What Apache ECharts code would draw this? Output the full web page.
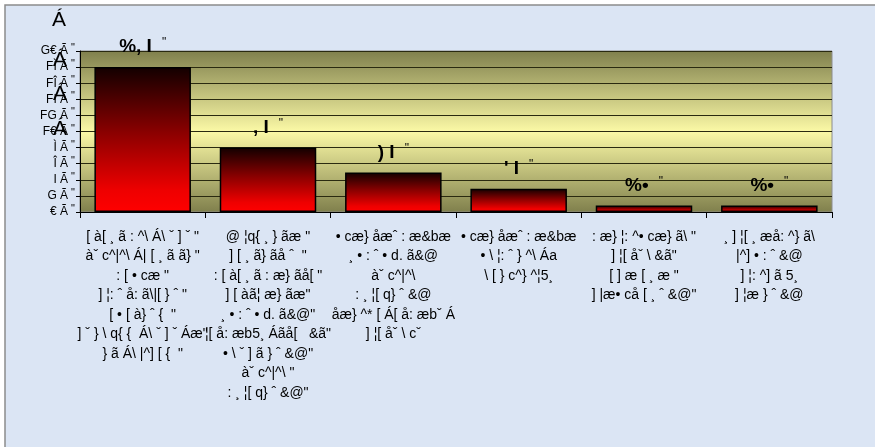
<!DOCTYPE html>
<html>
<head>
<meta charset="utf-8">
<script src="https://cdn.jsdelivr.net/npm/echarts@6/dist/echarts.min.js"></script>
<style>
  html, body { margin: 0; padding: 0; background: #fff; }
  #main { width: 875px; height: 447px; }
</style>
</head>
<body>
<div id="main"></div>
<script>
// category labels (kept as they appear in the picture)
var categories = [
  '[ à[ ¸ ã : ^\\ Á\\ ˇ ] ˇ "\nàˇ c^|^\\ Á| [ ¸ ã ã} "\n: [ • cæ "\n] ¦: ˆ å: ã\\|[ } ˆ "\n[ • [ à} ˆ {  "\n] ˇ } \\ q{ {  Á\\ ˇ ] ˇ Áæ"\n} ã Á\\ |^] [ {  "',
  '@ ¦q{ ¸ } ãæ "\n] [ ¸ ã} ãå ˆ  "\n: [ à[ ¸ ã : æ} ãå[ "\n] [ àã¦ æ} ãæ"\n¸ • : ˆ • d. ã&@"\n¦[ å: æb5¸ Áãå[   &ã"\n• \\ ˇ ] ã } ˆ &@"\nàˇ c^|^\\ "\n: ¸ ¦[ q} ˆ &@"',
  '• cæ} åæˆ : æ&bæ\n¸ • : ˆ • d. ã&@\nàˇ c^|^\\\n: ¸ ¦[ q} ˆ &@\nåæ} ^* [ Á[ å: æbˇ Á\n] ¦[ åˇ \\ cˇ',
  '• cæ} åæˆ : æ&bæ\n• \\ ¦: ˆ } ^\\ Áa\n\\ [ } c^} ^¦5¸',
  ': æ} ¦: ^• cæ} ã\\ "\n] ¦[ åˇ \\ &ã"\n[ ] æ [ ¸ æ "\n] |æ• cå [ ¸ ˆ &@"',
  '¸ ] ¦[ ¸ æå: ^} ã\\\n|^] • : ˆ &@\n] ¦: ^] ã 5¸\n] ¦æ } ˆ &@'
];
var values = [18.0, 8.0, 4.9, 2.9, 0.8, 0.8];
var valueLabels = ['%, I', ', I', ') I', '\' I', '%•', '%•'];
var yTickLabels = ['€ Ã', 'G Ã', 'I Ã', 'Î Ã', 'Ì Ã', 'F€ Ã', 'FG Ã', 'FI Ã', 'FÎ Ã', 'FÌ Ã', 'G€ Ã'];

var chart = echarts.init(document.getElementById('main'));

var barColor = new echarts.graphic.LinearGradient(0, 0, 0, 1, [
  { offset: 0, color: '#120000' },
  { offset: 0.45, color: '#8a0000' },
  { offset: 0.85, color: '#ee0000' },
  { offset: 1, color: '#ff0000' }
]);

var plotBg = new echarts.graphic.LinearGradient(0, 0, 0, 1, [
  { offset: 0, color: '#7f7f4c' },
  { offset: 0.5, color: '#fbf9a6' },
  { offset: 1, color: '#7f7f4c' }
]);

var option = {
  backgroundColor: '#ffffff',
  animation: false,
  textStyle: { fontFamily: 'Liberation Sans, Arial, sans-serif' },
  graphic: [
    {
      type: 'rect', z: -10,
      shape: { x: 5, y: 5, width: 880, height: 450 },
      style: { fill: '#dbe5f4', stroke: '#8c8c8c', lineWidth: 1.5 }
    },
    { type: 'text', left: 52, top: 10, style: { text: 'Á', fontSize: 21, fill: '#000' } },
    { type: 'text', left: 53, top: 50, z: 20, style: { text: 'Á', fontSize: 21, fill: '#000' } },
    { type: 'text', left: 53, top: 84, z: 20, style: { text: 'Á', fontSize: 21, fill: '#000' } },
    { type: 'text', left: 53, top: 119, z: 20, style: { text: 'Á', fontSize: 21, fill: '#000' } }
  ],
  grid: {
    left: 80, right: 43, top: 51, bottom: 235,
    show: true,
    backgroundColor: plotBg,
    borderColor: '#8c8c8c',
    borderWidth: 1
  },
  xAxis: {
    type: 'category',
    data: categories,
    axisLine: { lineStyle: { color: '#000', width: 1 } },
    axisTick: { show: true, length: 6, lineStyle: { color: '#000' } },
    axisLabel: {
      interval: 0,
      color: '#000',
      fontSize: 14,
      lineHeight: 19.5,
      margin: 15,
      align: 'center'
    }
  },
  yAxis: {
    type: 'value',
    min: 0, max: 20, interval: 2,
    axisLine: { show: true, lineStyle: { color: '#000', width: 1 } },
    axisTick: { show: true, length: 4, lineStyle: { color: '#000' } },
    splitLine: { show: true, lineStyle: { color: '#2a2a10', width: 1.2 } },
    axisLabel: {
      color: '#000',
      fontSize: 11,
      margin: 5,
      formatter: function (v) {
        return '{a|' + yTickLabels[Math.round(v / 2)] + '}{q|"}';
      },
      rich: {
        a: { fontSize: 12, color: '#000' },
        q: { fontSize: 11, color: '#000', padding: [0, 0, 6, 3] }
      }
    }
  },
  series: [{
    type: 'bar',
    barWidth: '77%',
    data: values.map(function (v, i) {
      return {
        value: v,
        label: {
          formatter: '{b|' + valueLabels[i] + '}{q|   "}'
        }
      };
    }),
    itemStyle: { color: barColor, borderColor: '#000', borderWidth: 1.5 },
    label: {
      show: true,
      position: 'top',
      distance: 10,
      rich: {
        b: { fontSize: 19, fontWeight: 'bold', color: '#000' },
        q: { fontSize: 12, color: '#000', padding: [0, 0, 8, 0] }
      }
    }
  }]
};

chart.setOption(option);
</script>
</body>
</html>
